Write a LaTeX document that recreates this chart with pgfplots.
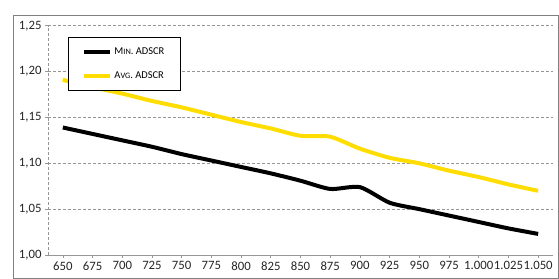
\documentclass[border=0pt]{standalone}
\usepackage{pgfplots}
\pgfplotsset{compat=1.18}
\usepackage{fontspec}
\setmainfont{Carlito}
\definecolor{ylw}{RGB}{255,221,0}
\definecolor{frm}{RGB}{128,128,128}
\definecolor{grd}{RGB}{150,150,150}
\pgfplotstableread{
x y
0 1.139
1 1.132
2 1.125
3 1.118
4 1.110
5 1.103
6 1.096
7 1.089
8 1.081
9 1.072
10 1.074
11 1.057
12 1.050
13 1.043
14 1.036
15 1.029
16 1.023
}\minadscr
\pgfplotstableread{
x y
0 1.191
1 1.183
2 1.176
3 1.168
4 1.161
5 1.153
6 1.145
7 1.138
8 1.130
9 1.129
10 1.116
11 1.106
12 1.100
13 1.092
14 1.085
15 1.077
16 1.070
}\avgadscr
\begin{document}
\begin{tikzpicture}
\path[use as bounding box] (0,0) rectangle (559bp,279bp);
\draw[frm, line width=0.8bp] (13bp,0.4bp) rectangle (558.6bp,264bp);
\begin{axis}[
  at={(48bp,24bp)}, anchor=south west, scale only axis,
  width=505bp, height=229.3bp,
  xmin=-0.5, xmax=16.5, ymin=1, ymax=1.25,
  axis x line*=bottom, axis y line*=left,
  x axis line style={-, grd, line width=0.8bp},
  y axis line style={-, grd, densely dashed, line width=0.5bp},
  xtick={0,...,16},
  xticklabels={650,675,700,725,750,775,800,825,850,875,900,925,950,975,1.000,1.025,1.050},
  ytick={1,1.05,1.1,1.15,1.2,1.25},
  ymajorgrids,
  grid style={grd, densely dashed, line width=0.5bp},
  tick style={grd, line width=0.6bp},
  major tick length=3bp,
  tick align=outside,
  /pgf/number format/assume math mode=true,
  yticklabel style={/pgf/number format/.cd, use comma, fixed, fixed zerofill, precision=2},
  ticklabel style={font=\fontsize{12.8}{14}\selectfont, text=black!85},
  legend style={at={(0.04,0.95)}, anchor=north west, draw=black, line width=0.6bp,
    font=\fontsize{10.5}{12}\selectfont, inner xsep=14bp, inner ysep=8bp, row sep=12bp,
    cells={anchor=west}},
  legend image code/.code={\draw[#1, line width=4bp] (0bp,0bp) -- (26bp,0bp);},
]
\addplot[black, line width=4bp, smooth, tension=0.4] table[x=x,y=y] {\minadscr};
\addlegendentry{M{\fontsize{8.3}{10}\selectfont IN}. ADSCR}
\addplot[ylw, line width=4bp, smooth, tension=0.4] table[x=x,y=y] {\avgadscr};
\addlegendentry{A{\fontsize{8.3}{10}\selectfont VG}. ADSCR}
\end{axis}
\end{tikzpicture}
\end{document}
